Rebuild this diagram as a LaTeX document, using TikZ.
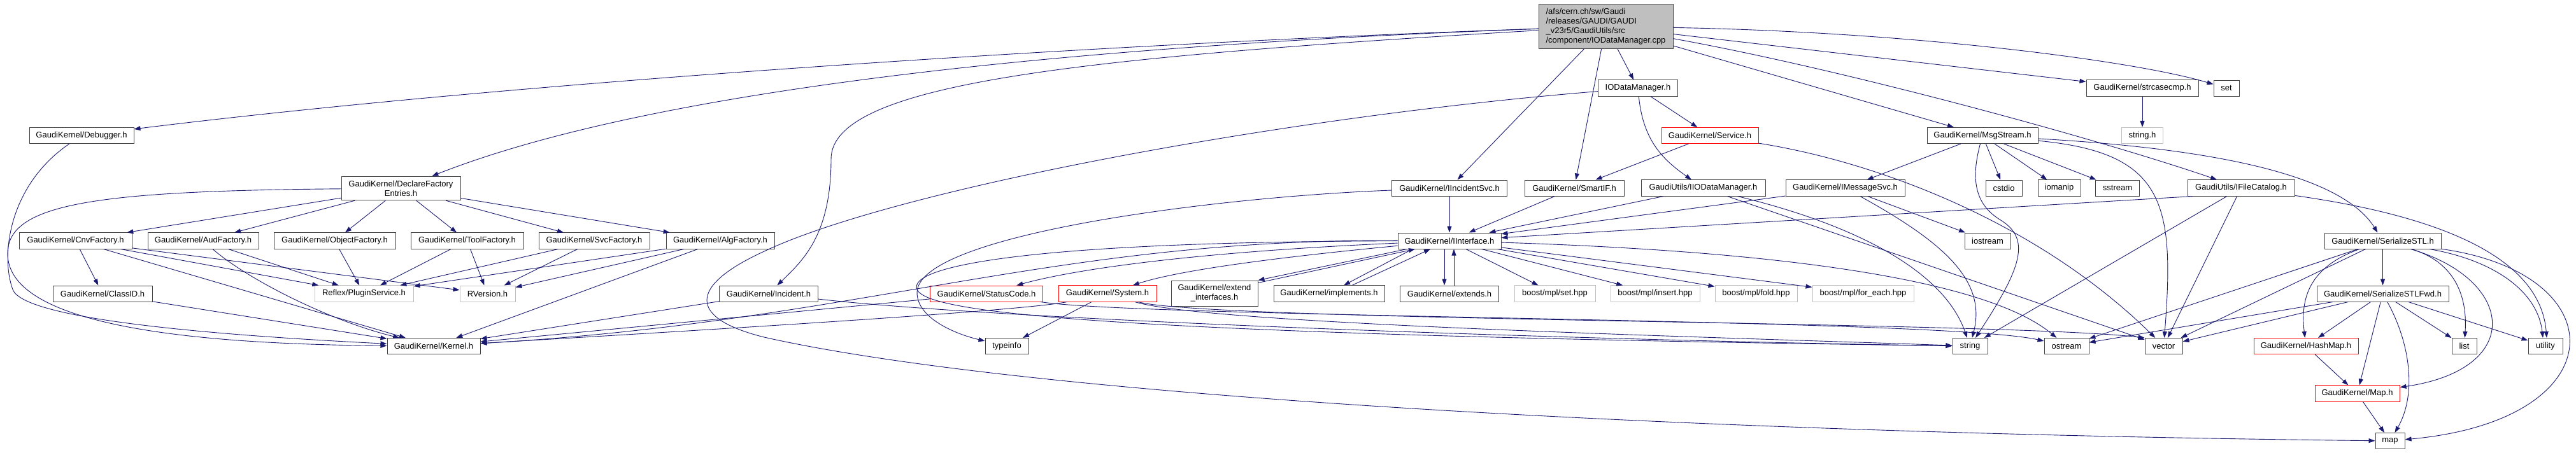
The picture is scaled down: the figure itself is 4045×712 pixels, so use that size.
\documentclass[tikz,border=0pt]{standalone}
\usepackage{fontspec}
\setmainfont{Liberation Sans}
\usetikzlibrary{arrows.meta}
\definecolor{edgeblue}{HTML}{191970}
\definecolor{greyfill}{HTML}{BFBFBF}
\definecolor{boxline}{HTML}{404040}
\tikzset{
    header/.style={rectangle, draw=boxline, line width=1pt, fill=white, minimum height=25pt, inner xsep=4pt, inner ysep=6.5pt, font=\fontsize{13pt}{15pt}\selectfont, align=center},
    truncated/.style={header, draw=red},
    missing/.style={header, draw=greyfill},
    source/.style={header, fill=greyfill, align=left},
    arrow/.style={line width=0.9pt, draw=edgeblue, ->, >={Stealth[length=10pt, width=7pt, inset=0pt]}}
}

\begin{document}
\begin{tikzpicture}[x=1pt, y=-1pt]
    \useasboundingbox (0,0) rectangle (4045,712);

    \node (rt) [source, minimum width=211pt] at (2521.5,41.5) {/afs/cern.ch/sw/Gaudi\\/releases/GAUDI/GAUDI\\\_v23r5/GaudiUtils/src\\/component/IODataManager.cpp};

    \node (iom) [header, minimum width=125pt] at (2572,138.5) {IODataManager.h};
    \node (strc) [header, minimum width=176pt] at (3364,138.5) {GaudiKernel/strcasecmp.h};
    \node (setn) [header, minimum width=40pt] at (3496,138.5) {set};

    \node (dbg) [header, minimum width=164pt] at (128,213) {GaudiKernel/Debugger.h};
    \node (svc) [truncated, minimum width=152pt] at (2685,213) {GaudiKernel/Service.h};
    \node (msg) [header, minimum width=174pt] at (3113,213) {GaudiKernel/MsgStream.h};
    \node (strh) [missing, minimum width=65pt] at (3364,213) {string.h};

    \node (dfe) [header, minimum width=187pt] at (629.5,296) {GaudiKernel/DeclareFactory\\Entries.h};
    \node (iisvc) [header, minimum width=181pt] at (2276,295.5) {GaudiKernel/IIncidentSvc.h};
    \node (sif) [header, minimum width=156pt] at (2472,295.5) {GaudiKernel/SmartIF.h};
    \node (iiom) [header, minimum width=195pt] at (2674.5,295.5) {GaudiUtils/IIODataManager.h};
    \node (ims) [header, minimum width=187pt] at (2897.5,295.5) {GaudiKernel/IMessageSvc.h};
    \node (cstd) [header, minimum width=57pt] at (3146.5,295.5) {cstdio};
    \node (ioman) [header, minimum width=67pt] at (3233.5,295.5) {iomanip};
    \node (sstrm) [header, minimum width=69pt] at (3325,295.5) {sstream};
    \node (ifc) [header, minimum width=168pt] at (3519,295.5) {GaudiUtils/IFileCatalog.h};

    \node (cnv) [header, minimum width=177pt] at (118.5,378.5) {GaudiKernel/CnvFactory.h};
    \node (aud) [header, minimum width=174pt] at (319,378.5) {GaudiKernel/AudFactory.h};
    \node (obj) [header, minimum width=191pt] at (525.5,378.5) {GaudiKernel/ObjectFactory.h};
    \node (tool) [header, minimum width=177pt] at (733.5,378.5) {GaudiKernel/ToolFactory.h};
    \node (svcf) [header, minimum width=174pt] at (933,378.5) {GaudiKernel/SvcFactory.h};
    \node (alg) [header, minimum width=170pt] at (1131,378.5) {GaudiKernel/AlgFactory.h};
    \node (iif) [header, minimum width=162pt] at (2276,378.5) {GaudiKernel/IInterface.h};
    \node (iostr) [header, minimum width=72pt] at (3121,378.5) {iostream};
    \node (sstl) [header, minimum width=183pt] at (3741.5,378.5) {GaudiKernel/SerializeSTL.h};

    \node (cid) [header, minimum width=156pt] at (161,461.5) {GaudiKernel/ClassID.h};
    \node (plug) [missing, minimum width=155pt] at (571.5,461.5) {Reflex/PluginService.h};
    \node (rver) [missing, minimum width=87pt] at (765.5,461.5) {RVersion.h};
    \node (inc) [header, minimum width=155pt] at (1207,461.5) {GaudiKernel/Incident.h};
    \node (stc) [truncated, minimum width=177pt] at (1549,461.5) {GaudiKernel/StatusCode.h};
    \node (sys) [truncated, minimum width=154pt] at (1739,461.5) {GaudiKernel/System.h};
    \node (extint) [header, minimum width=136pt] at (1907,461) {GaudiKernel/extend\\\_interfaces.h};
    \node (impl) [header, minimum width=174pt] at (2087,461.5) {GaudiKernel/implements.h};
    \node (exts) [header, minimum width=155pt] at (2276,461.5) {GaudiKernel/extends.h};
    \node (bset) [missing, minimum width=127pt] at (2441.5,461.5) {boost/mpl/set.hpp};
    \node (bins) [missing, minimum width=140pt] at (2599,461.5) {boost/mpl/insert.hpp};
    \node (bfold) [missing, minimum width=129pt] at (2757.5,461.5) {boost/mpl/fold.hpp};
    \node (bfe) [missing, minimum width=159pt] at (2925.5,461.5) {boost/mpl/for\_each.hpp};
    \node (sfwd) [header, minimum width=207pt] at (3741.5,461.5) {GaudiKernel/SerializeSTLFwd.h};

    \node (kern) [header, minimum width=146pt] at (681,544) {GaudiKernel/Kernel.h};
    \node (tinfo) [header, minimum width=68pt] at (1581,544) {typeinfo};
    \node (str) [header, minimum width=55pt] at (3093.5,544) {string};
    \node (ostr) [header, minimum width=70pt] at (3245,544) {ostream};
    \node (vec) [header, minimum width=59pt] at (3397.5,544) {vector};
    \node (hmap) [truncated, minimum width=164pt] at (3621,544) {GaudiKernel/HashMap.h};
    \node (lst) [header, minimum width=39pt] at (3869.5,544) {list};
    \node (util) [header, minimum width=54pt] at (3997,544) {utility};

    \node (mapH) [truncated, minimum width=133pt] at (3701.5,618.5) {GaudiKernel/Map.h};
    \node (mapn) [header, minimum width=46pt] at (3753,693) {map};

    \draw [arrow] (rt) .. controls (1700,70) and (800,130) .. (dbg);
    \draw [arrow] (rt) .. controls (1600,75) and (1000,150) .. (dfe);
    \draw [arrow] (rt) .. controls (1700,90) and (1305,130) .. (1305,250) .. controls (1305,370) and (1260,410) .. (inc);
    \draw [arrow] (rt) -- (iisvc);
    \draw [arrow] (rt) -- (sif);
    \draw [arrow] (rt) -- (iom);
    \draw [arrow] (rt) .. controls (3000,50) and (3350,95) .. (setn);
    \draw [arrow] (rt) -- (strc);
    \draw [arrow] (rt) -- (msg);
    \draw [arrow] (rt) .. controls (2900,110) and (3300,220) .. (ifc);

    \draw [arrow] (dbg) .. controls (15,290) and (0,400) .. (20,455) .. controls (36,499) and (300,525) .. (kern);
    \draw [arrow] (dfe) .. controls (150,300) and (10,320) .. (12,400) .. controls (14,490) and (200,540) .. (kern);
    \draw [arrow] (dfe) -- (cnv);
    \draw [arrow] (dfe) -- (aud);
    \draw [arrow] (dfe) -- (obj);
    \draw [arrow] (dfe) -- (tool);
    \draw [arrow] (dfe) -- (svcf);
    \draw [arrow] (dfe) -- (alg);

    \draw [arrow] (cnv) -- (cid);
    \draw [arrow] (cnv) -- (kern);
    \draw [arrow] (cnv) -- (plug);
    \draw [arrow] (cnv) -- (rver);
    \draw [arrow] (aud) .. controls (390,440) and (520,505) .. (kern);
    \draw [arrow] (aud) -- (plug);
    \draw [arrow] (obj) -- (plug);
    \draw [arrow] (tool) -- (plug);
    \draw [arrow] (tool) -- (rver);
    \draw [arrow] (svcf) -- (plug);
    \draw [arrow] (svcf) -- (rver);
    \draw [arrow] (alg) -- (plug);
    \draw [arrow] (alg) -- (rver);
    \draw [arrow] (alg) -- (kern);
    \draw [arrow] (cid) -- (kern);

    \draw [arrow] (iom) -- (svc);
    \draw [arrow] (iom) .. controls (2580,220) and (2610,250) .. (iiom);
    \draw [arrow] (iom) .. controls (2000,185) and (1400,300) .. (1200,395) .. controls (1080,450) and (1080,500) .. (1200,530) .. controls (1600,620) and (2600,680) .. (mapn);
    \draw [arrow] (svc) -- (sif);
    \draw [arrow] (svc) .. controls (2950,255) and (3200,350) .. (vec);
    \draw [arrow] (strc) -- (strh);

    \draw [arrow] (msg) -- (ims);
    \draw [arrow] (msg) -- (cstd);
    \draw [arrow] (msg) -- (ioman);
    \draw [arrow] (msg) -- (sstrm);
    \draw [arrow] (msg) .. controls (3095,280) and (3100,320) .. (3140,345) .. controls (3190,375) and (3175,420) .. (str);
    \draw [arrow] (msg) .. controls (3500,235) and (3680,280) .. (sstl);
    \draw [arrow] (msg) .. controls (3400,240) and (3415,320) .. (vec);

    \draw [arrow] (iisvc) -- (iif);
    \draw [arrow] (iisvc) .. controls (1900,310) and (1440,370) .. (1440,460) .. controls (1440,500) and (1500,525) .. (tinfo);
    \draw [arrow] (sif) -- (iif);
    \draw [arrow] (iiom) -- (iif);
    \draw [arrow] (iiom) .. controls (2900,350) and (3050,420) .. (str);
    \draw [arrow] (iiom) -- (vec);
    \draw [arrow] (ims) -- (iif);
    \draw [arrow] (ims) .. controls (3050,380) and (3120,440) .. (str);
    \draw [arrow] (ims) -- (iostr);
    \draw [arrow] ([xshift=8pt]ifc.south west) -- (iif);
    \draw [arrow] (ifc) -- (str);
    \draw [arrow] (ifc) -- (vec);
    \draw [arrow] (ifc) .. controls (3870,345) and (3990,420) .. ([xshift=2pt]util.north);

    \draw [arrow] (inc) -- (kern);
    \draw [arrow] (inc) .. controls (1600,505) and (2500,535) .. (str);

    \draw [arrow] (iif) .. controls (1650,375) and (1350,505) .. (kern);
    \draw [arrow] (iif) .. controls (1900,395) and (1700,420) .. (stc);
    \draw [arrow] (iif) .. controls (2000,405) and (1850,425) .. (sys);
    \draw [arrow] ([xshift=-67pt]iif.south) -- (extint.north east);
    \draw [arrow] ([yshift=-4pt]extint.north east) -- ([xshift=-54pt]iif.south);
    \draw [arrow] ([xshift=-58pt]iif.south) -- ([xshift=23pt]impl.north);
    \draw [arrow] ([xshift=36pt]impl.north) -- ([xshift=-30pt]iif.south);
    \draw [arrow] ([xshift=-8pt]iif.south) -- ([xshift=-8pt]exts.north);
    \draw [arrow] ([xshift=7pt]exts.north) -- ([xshift=7pt]iif.south);
    \draw [arrow] (iif) -- (bset);
    \draw [arrow] (iif) -- (bins);
    \draw [arrow] (iif) -- (bfold);
    \draw [arrow] (iif) -- (bfe);
    \draw [arrow] (iif) .. controls (2800,395) and (3120,440) .. (ostr);
    \draw [arrow] (iif) .. controls (1600,380) and (1425,420) .. (1440,455) .. controls (1455,490) and (1700,525) .. (str);

    \draw [arrow] (stc) -- (kern);
    \draw [arrow] (stc) .. controls (1800,500) and (3050,500) .. (ostr);
    \draw [arrow] (sys) .. controls (1600,490) and (1000,525) .. (kern);
    \draw [arrow] (sys) -- (tinfo);
    \draw [arrow] (sys) .. controls (1900,510) and (2700,530) .. (str);
    \draw [arrow] (sys) .. controls (1900,505) and (3150,505) .. (vec.north west);

    \draw [arrow] (sstl) -- (sfwd);
    \draw [arrow] (sstl) .. controls (3625,420) and (3612,470) .. (hmap);
    \draw [arrow] (sstl) -- (vec);
    \draw [arrow] (sstl) -- (ostr);
    \draw [arrow] (sstl) .. controls (3850,410) and (3875,460) .. (lst);
    \draw [arrow] (sstl) .. controls (3950,440) and (3965,580) .. (mapH);
    \draw [arrow] (sstl) .. controls (3920,410) and (3985,460) .. ([xshift=-4pt]util.north);
    \draw [arrow] (sstl) .. controls (4110,430) and (4110,660) .. (mapn);

    \draw [arrow] (sfwd) -- (vec);
    \draw [arrow] (sfwd) -- (ostr);
    \draw [arrow] (sfwd) -- (hmap);
    \draw [arrow] (sfwd) -- (mapH);
    \draw [arrow] (sfwd) .. controls (3785,540) and (3795,620) .. (mapn);
    \draw [arrow] (sfwd) -- (lst);
    \draw [arrow] (sfwd) -- (util);
    \draw [arrow] (hmap) -- (mapH);
    \draw [arrow] (mapH) -- (mapn);
\end{tikzpicture}
\end{document}
